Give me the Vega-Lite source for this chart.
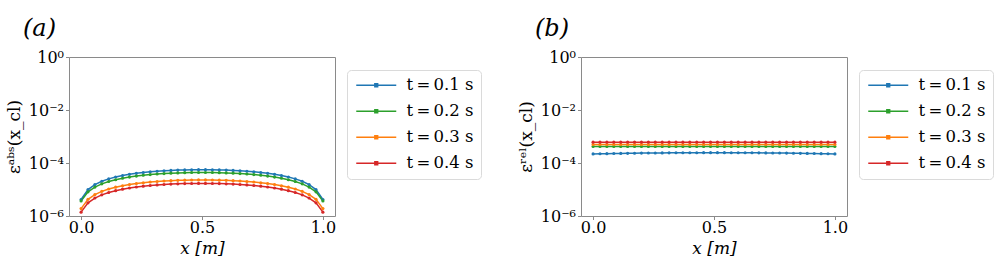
{
"$schema": "https://vega.github.io/schema/vega-lite/v6.json",
"padding": {"left": 4, "top": 16, "right": 5, "bottom": 2},
"background": "white",
"config": {
  "font": "DejaVu Serif",
  "view": {"stroke": "#8a8a8a", "strokeWidth": 1},
  "axis": {"grid": false, "domain": false, "tickColor": "#8a8a8a", "tickSize": 3.5, "labelFontSize": 16, "labelColor": "#000", "titleFontSize": 17, "titleFontWeight": "normal", "titleColor": "#000", "labelFont": "DejaVu Serif", "titleFont": "DejaVu Serif"},
  "legend": {"strokeColor": "#dadada", "fillColor": "white", "cornerRadius": 4, "padding": 7, "labelFontSize": 16.5, "labelFont": "DejaVu Serif", "labelColor": "#000", "symbolType": "M-5,0H5M-0.35,-0.35H0.35V0.35H-0.35Z", "symbolSize": 64, "symbolStrokeWidth": 1.5, "symbolOffset": 14, "labelOffset": 22, "rowPadding": 9, "title": null, "orient": "none", "legendX": 278, "legendY": 13},
  "title": {"font": "DejaVu Serif", "fontStyle": "italic", "fontSize": 24, "fontWeight": "normal", "anchor": "start", "frame": "group", "dx": -46, "offset": 8, "color": "#000"}
},
"datasets": {
"abs": [
{"t":"0.1","x":0,"v":4.2e-6},{"t":"0.1","x":0.0286,"v":9.95e-6},{"t":"0.1","x":0.0571,"v":15.35e-6},{"t":"0.1","x":0.0857,"v":20.42e-6},{"t":"0.1","x":0.1143,"v":25.15e-6},{"t":"0.1","x":0.1429,"v":29.55e-6},{"t":"0.1","x":0.1714,"v":33.6e-6},{"t":"0.1","x":0.2,"v":37.32e-6},{"t":"0.1","x":0.2286,"v":40.7e-6},{"t":"0.1","x":0.2571,"v":43.74e-6},{"t":"0.1","x":0.2857,"v":46.44e-6},{"t":"0.1","x":0.3143,"v":48.81e-6},{"t":"0.1","x":0.3429,"v":50.84e-6},{"t":"0.1","x":0.3714,"v":52.53e-6},{"t":"0.1","x":0.4,"v":53.88e-6},{"t":"0.1","x":0.4286,"v":54.89e-6},{"t":"0.1","x":0.4571,"v":55.57e-6},{"t":"0.1","x":0.4857,"v":55.91e-6},{"t":"0.1","x":0.5143,"v":55.91e-6},{"t":"0.1","x":0.5429,"v":55.57e-6},{"t":"0.1","x":0.5714,"v":54.89e-6},{"t":"0.1","x":0.6,"v":53.88e-6},{"t":"0.1","x":0.6286,"v":52.53e-6},{"t":"0.1","x":0.6571,"v":50.84e-6},{"t":"0.1","x":0.6857,"v":48.81e-6},{"t":"0.1","x":0.7143,"v":46.44e-6},{"t":"0.1","x":0.7429,"v":43.74e-6},{"t":"0.1","x":0.7714,"v":40.7e-6},{"t":"0.1","x":0.8,"v":37.32e-6},{"t":"0.1","x":0.8286,"v":33.6e-6},{"t":"0.1","x":0.8571,"v":29.55e-6},{"t":"0.1","x":0.8857,"v":25.15e-6},{"t":"0.1","x":0.9143,"v":20.42e-6},{"t":"0.1","x":0.9429,"v":15.35e-6},{"t":"0.1","x":0.9714,"v":9.95e-6},{"t":"0.1","x":1,"v":4.2e-6},
{"t":"0.2","x":0,"v":3.7e-6},{"t":"0.2","x":0.0286,"v":8.17e-6},{"t":"0.2","x":0.0571,"v":12.37e-6},{"t":"0.2","x":0.0857,"v":16.32e-6},{"t":"0.2","x":0.1143,"v":20.0e-6},{"t":"0.2","x":0.1429,"v":23.41e-6},{"t":"0.2","x":0.1714,"v":26.57e-6},{"t":"0.2","x":0.2,"v":29.46e-6},{"t":"0.2","x":0.2286,"v":32.09e-6},{"t":"0.2","x":0.2571,"v":34.45e-6},{"t":"0.2","x":0.2857,"v":36.56e-6},{"t":"0.2","x":0.3143,"v":38.4e-6},{"t":"0.2","x":0.3429,"v":39.97e-6},{"t":"0.2","x":0.3714,"v":41.29e-6},{"t":"0.2","x":0.4,"v":42.34e-6},{"t":"0.2","x":0.4286,"v":43.13e-6},{"t":"0.2","x":0.4571,"v":43.65e-6},{"t":"0.2","x":0.4857,"v":43.92e-6},{"t":"0.2","x":0.5143,"v":43.92e-6},{"t":"0.2","x":0.5429,"v":43.65e-6},{"t":"0.2","x":0.5714,"v":43.13e-6},{"t":"0.2","x":0.6,"v":42.34e-6},{"t":"0.2","x":0.6286,"v":41.29e-6},{"t":"0.2","x":0.6571,"v":39.97e-6},{"t":"0.2","x":0.6857,"v":38.4e-6},{"t":"0.2","x":0.7143,"v":36.56e-6},{"t":"0.2","x":0.7429,"v":34.45e-6},{"t":"0.2","x":0.7714,"v":32.09e-6},{"t":"0.2","x":0.8,"v":29.46e-6},{"t":"0.2","x":0.8286,"v":26.57e-6},{"t":"0.2","x":0.8571,"v":23.41e-6},{"t":"0.2","x":0.8857,"v":20.0e-6},{"t":"0.2","x":0.9143,"v":16.32e-6},{"t":"0.2","x":0.9429,"v":12.37e-6},{"t":"0.2","x":0.9714,"v":8.17e-6},{"t":"0.2","x":1,"v":3.7e-6},
{"t":"0.3","x":0,"v":1.9e-6},{"t":"0.3","x":0.0286,"v":4.24e-6},{"t":"0.3","x":0.0571,"v":6.45e-6},{"t":"0.3","x":0.0857,"v":8.51e-6},{"t":"0.3","x":0.1143,"v":10.44e-6},{"t":"0.3","x":0.1429,"v":12.23e-6},{"t":"0.3","x":0.1714,"v":13.89e-6},{"t":"0.3","x":0.2,"v":15.4e-6},{"t":"0.3","x":0.2286,"v":16.78e-6},{"t":"0.3","x":0.2571,"v":18.02e-6},{"t":"0.3","x":0.2857,"v":19.12e-6},{"t":"0.3","x":0.3143,"v":20.09e-6},{"t":"0.3","x":0.3429,"v":20.92e-6},{"t":"0.3","x":0.3714,"v":21.61e-6},{"t":"0.3","x":0.4,"v":22.16e-6},{"t":"0.3","x":0.4286,"v":22.57e-6},{"t":"0.3","x":0.4571,"v":22.85e-6},{"t":"0.3","x":0.4857,"v":22.98e-6},{"t":"0.3","x":0.5143,"v":22.98e-6},{"t":"0.3","x":0.5429,"v":22.85e-6},{"t":"0.3","x":0.5714,"v":22.57e-6},{"t":"0.3","x":0.6,"v":22.16e-6},{"t":"0.3","x":0.6286,"v":21.61e-6},{"t":"0.3","x":0.6571,"v":20.92e-6},{"t":"0.3","x":0.6857,"v":20.09e-6},{"t":"0.3","x":0.7143,"v":19.12e-6},{"t":"0.3","x":0.7429,"v":18.02e-6},{"t":"0.3","x":0.7714,"v":16.78e-6},{"t":"0.3","x":0.8,"v":15.4e-6},{"t":"0.3","x":0.8286,"v":13.89e-6},{"t":"0.3","x":0.8571,"v":12.23e-6},{"t":"0.3","x":0.8857,"v":10.44e-6},{"t":"0.3","x":0.9143,"v":8.51e-6},{"t":"0.3","x":0.9429,"v":6.45e-6},{"t":"0.3","x":0.9714,"v":4.24e-6},{"t":"0.3","x":1,"v":1.9e-6},
{"t":"0.4","x":0,"v":1.4e-6},{"t":"0.4","x":0.0286,"v":3.13e-6},{"t":"0.4","x":0.0571,"v":4.76e-6},{"t":"0.4","x":0.0857,"v":6.29e-6},{"t":"0.4","x":0.1143,"v":7.72e-6},{"t":"0.4","x":0.1429,"v":9.04e-6},{"t":"0.4","x":0.1714,"v":10.26e-6},{"t":"0.4","x":0.2,"v":11.38e-6},{"t":"0.4","x":0.2286,"v":12.4e-6},{"t":"0.4","x":0.2571,"v":13.32e-6},{"t":"0.4","x":0.2857,"v":14.13e-6},{"t":"0.4","x":0.3143,"v":14.85e-6},{"t":"0.4","x":0.3429,"v":15.46e-6},{"t":"0.4","x":0.3714,"v":15.97e-6},{"t":"0.4","x":0.4,"v":16.38e-6},{"t":"0.4","x":0.4286,"v":16.68e-6},{"t":"0.4","x":0.4571,"v":16.89e-6},{"t":"0.4","x":0.4857,"v":16.99e-6},{"t":"0.4","x":0.5143,"v":16.99e-6},{"t":"0.4","x":0.5429,"v":16.89e-6},{"t":"0.4","x":0.5714,"v":16.68e-6},{"t":"0.4","x":0.6,"v":16.38e-6},{"t":"0.4","x":0.6286,"v":15.97e-6},{"t":"0.4","x":0.6571,"v":15.46e-6},{"t":"0.4","x":0.6857,"v":14.85e-6},{"t":"0.4","x":0.7143,"v":14.13e-6},{"t":"0.4","x":0.7429,"v":13.32e-6},{"t":"0.4","x":0.7714,"v":12.4e-6},{"t":"0.4","x":0.8,"v":11.38e-6},{"t":"0.4","x":0.8286,"v":10.26e-6},{"t":"0.4","x":0.8571,"v":9.04e-6},{"t":"0.4","x":0.8857,"v":7.72e-6},{"t":"0.4","x":0.9143,"v":6.29e-6},{"t":"0.4","x":0.9429,"v":4.76e-6},{"t":"0.4","x":0.9714,"v":3.13e-6},{"t":"0.4","x":1,"v":1.4e-6}
],
"rel": [
{"t":"0.1","x":0,"v":2.2e-4},{"t":"0.1","x":0.0286,"v":2.23e-4},{"t":"0.1","x":0.0571,"v":2.25e-4},{"t":"0.1","x":0.0857,"v":2.28e-4},{"t":"0.1","x":0.1143,"v":2.3e-4},{"t":"0.1","x":0.1429,"v":2.32e-4},{"t":"0.1","x":0.1714,"v":2.34e-4},{"t":"0.1","x":0.2,"v":2.36e-4},{"t":"0.1","x":0.2286,"v":2.38e-4},{"t":"0.1","x":0.2571,"v":2.39e-4},{"t":"0.1","x":0.2857,"v":2.4e-4},{"t":"0.1","x":0.3143,"v":2.42e-4},{"t":"0.1","x":0.3429,"v":2.43e-4},{"t":"0.1","x":0.3714,"v":2.43e-4},{"t":"0.1","x":0.4,"v":2.44e-4},{"t":"0.1","x":0.4286,"v":2.44e-4},{"t":"0.1","x":0.4571,"v":2.45e-4},{"t":"0.1","x":0.4857,"v":2.45e-4},{"t":"0.1","x":0.5143,"v":2.45e-4},{"t":"0.1","x":0.5429,"v":2.45e-4},{"t":"0.1","x":0.5714,"v":2.44e-4},{"t":"0.1","x":0.6,"v":2.44e-4},{"t":"0.1","x":0.6286,"v":2.43e-4},{"t":"0.1","x":0.6571,"v":2.43e-4},{"t":"0.1","x":0.6857,"v":2.42e-4},{"t":"0.1","x":0.7143,"v":2.4e-4},{"t":"0.1","x":0.7429,"v":2.39e-4},{"t":"0.1","x":0.7714,"v":2.38e-4},{"t":"0.1","x":0.8,"v":2.36e-4},{"t":"0.1","x":0.8286,"v":2.34e-4},{"t":"0.1","x":0.8571,"v":2.32e-4},{"t":"0.1","x":0.8857,"v":2.3e-4},{"t":"0.1","x":0.9143,"v":2.28e-4},{"t":"0.1","x":0.9429,"v":2.25e-4},{"t":"0.1","x":0.9714,"v":2.23e-4},{"t":"0.1","x":1,"v":2.2e-4},
{"t":"0.2","x":0,"v":4.2e-4},{"t":"0.2","x":0.0286,"v":4.2e-4},{"t":"0.2","x":0.0571,"v":4.2e-4},{"t":"0.2","x":0.0857,"v":4.2e-4},{"t":"0.2","x":0.1143,"v":4.2e-4},{"t":"0.2","x":0.1429,"v":4.2e-4},{"t":"0.2","x":0.1714,"v":4.2e-4},{"t":"0.2","x":0.2,"v":4.2e-4},{"t":"0.2","x":0.2286,"v":4.2e-4},{"t":"0.2","x":0.2571,"v":4.2e-4},{"t":"0.2","x":0.2857,"v":4.2e-4},{"t":"0.2","x":0.3143,"v":4.2e-4},{"t":"0.2","x":0.3429,"v":4.2e-4},{"t":"0.2","x":0.3714,"v":4.2e-4},{"t":"0.2","x":0.4,"v":4.2e-4},{"t":"0.2","x":0.4286,"v":4.2e-4},{"t":"0.2","x":0.4571,"v":4.2e-4},{"t":"0.2","x":0.4857,"v":4.2e-4},{"t":"0.2","x":0.5143,"v":4.2e-4},{"t":"0.2","x":0.5429,"v":4.2e-4},{"t":"0.2","x":0.5714,"v":4.2e-4},{"t":"0.2","x":0.6,"v":4.2e-4},{"t":"0.2","x":0.6286,"v":4.2e-4},{"t":"0.2","x":0.6571,"v":4.2e-4},{"t":"0.2","x":0.6857,"v":4.2e-4},{"t":"0.2","x":0.7143,"v":4.2e-4},{"t":"0.2","x":0.7429,"v":4.2e-4},{"t":"0.2","x":0.7714,"v":4.2e-4},{"t":"0.2","x":0.8,"v":4.2e-4},{"t":"0.2","x":0.8286,"v":4.2e-4},{"t":"0.2","x":0.8571,"v":4.2e-4},{"t":"0.2","x":0.8857,"v":4.2e-4},{"t":"0.2","x":0.9143,"v":4.2e-4},{"t":"0.2","x":0.9429,"v":4.2e-4},{"t":"0.2","x":0.9714,"v":4.2e-4},{"t":"0.2","x":1,"v":4.2e-4},
{"t":"0.3","x":0,"v":5.0e-4},{"t":"0.3","x":0.0286,"v":5.0e-4},{"t":"0.3","x":0.0571,"v":5.0e-4},{"t":"0.3","x":0.0857,"v":5.0e-4},{"t":"0.3","x":0.1143,"v":5.0e-4},{"t":"0.3","x":0.1429,"v":5.0e-4},{"t":"0.3","x":0.1714,"v":5.0e-4},{"t":"0.3","x":0.2,"v":5.0e-4},{"t":"0.3","x":0.2286,"v":5.0e-4},{"t":"0.3","x":0.2571,"v":5.0e-4},{"t":"0.3","x":0.2857,"v":5.0e-4},{"t":"0.3","x":0.3143,"v":5.0e-4},{"t":"0.3","x":0.3429,"v":5.0e-4},{"t":"0.3","x":0.3714,"v":5.0e-4},{"t":"0.3","x":0.4,"v":5.0e-4},{"t":"0.3","x":0.4286,"v":5.0e-4},{"t":"0.3","x":0.4571,"v":5.0e-4},{"t":"0.3","x":0.4857,"v":5.0e-4},{"t":"0.3","x":0.5143,"v":5.0e-4},{"t":"0.3","x":0.5429,"v":5.0e-4},{"t":"0.3","x":0.5714,"v":5.0e-4},{"t":"0.3","x":0.6,"v":5.0e-4},{"t":"0.3","x":0.6286,"v":5.0e-4},{"t":"0.3","x":0.6571,"v":5.0e-4},{"t":"0.3","x":0.6857,"v":5.0e-4},{"t":"0.3","x":0.7143,"v":5.0e-4},{"t":"0.3","x":0.7429,"v":5.0e-4},{"t":"0.3","x":0.7714,"v":5.0e-4},{"t":"0.3","x":0.8,"v":5.0e-4},{"t":"0.3","x":0.8286,"v":5.0e-4},{"t":"0.3","x":0.8571,"v":5.0e-4},{"t":"0.3","x":0.8857,"v":5.0e-4},{"t":"0.3","x":0.9143,"v":5.0e-4},{"t":"0.3","x":0.9429,"v":5.0e-4},{"t":"0.3","x":0.9714,"v":5.0e-4},{"t":"0.3","x":1,"v":5.0e-4},
{"t":"0.4","x":0,"v":6.1e-4},{"t":"0.4","x":0.0286,"v":6.1e-4},{"t":"0.4","x":0.0571,"v":6.1e-4},{"t":"0.4","x":0.0857,"v":6.1e-4},{"t":"0.4","x":0.1143,"v":6.1e-4},{"t":"0.4","x":0.1429,"v":6.1e-4},{"t":"0.4","x":0.1714,"v":6.1e-4},{"t":"0.4","x":0.2,"v":6.1e-4},{"t":"0.4","x":0.2286,"v":6.1e-4},{"t":"0.4","x":0.2571,"v":6.1e-4},{"t":"0.4","x":0.2857,"v":6.1e-4},{"t":"0.4","x":0.3143,"v":6.1e-4},{"t":"0.4","x":0.3429,"v":6.1e-4},{"t":"0.4","x":0.3714,"v":6.1e-4},{"t":"0.4","x":0.4,"v":6.1e-4},{"t":"0.4","x":0.4286,"v":6.1e-4},{"t":"0.4","x":0.4571,"v":6.1e-4},{"t":"0.4","x":0.4857,"v":6.1e-4},{"t":"0.4","x":0.5143,"v":6.1e-4},{"t":"0.4","x":0.5429,"v":6.1e-4},{"t":"0.4","x":0.5714,"v":6.1e-4},{"t":"0.4","x":0.6,"v":6.1e-4},{"t":"0.4","x":0.6286,"v":6.1e-4},{"t":"0.4","x":0.6571,"v":6.1e-4},{"t":"0.4","x":0.6857,"v":6.1e-4},{"t":"0.4","x":0.7143,"v":6.1e-4},{"t":"0.4","x":0.7429,"v":6.1e-4},{"t":"0.4","x":0.7714,"v":6.1e-4},{"t":"0.4","x":0.8,"v":6.1e-4},{"t":"0.4","x":0.8286,"v":6.1e-4},{"t":"0.4","x":0.8571,"v":6.1e-4},{"t":"0.4","x":0.8857,"v":6.1e-4},{"t":"0.4","x":0.9143,"v":6.1e-4},{"t":"0.4","x":0.9429,"v":6.1e-4},{"t":"0.4","x":0.9714,"v":6.1e-4},{"t":"0.4","x":1,"v":6.1e-4}
]
},
"spacing": 34,
"resolve": {"scale": {"y": "independent", "color": "independent"}, "legend": {"color": "independent"}},
"hconcat": [
{
  "title": "(a)",
  "width": 266, "height": 159,
  "data": {"name": "abs"},
  "mark": {"type": "line", "strokeWidth": 1.5, "point": {"filled": true, "size": 10}},
  "encoding": {
    "x": {"field": "x", "type": "quantitative", "scale": {"domain": [-0.05, 1.05], "nice": false, "zero": false}, "axis": {"values": [0, 0.5, 1], "format": ".1f", "title": "x [m]", "titleFontStyle": "italic", "labelPadding": 0, "titlePadding": 5}},
    "y": {"field": "v", "type": "quantitative", "scale": {"type": "log", "domain": [1e-6, 1], "nice": false}, "axis": {"values": [1e-6, 1e-4, 1e-2, 1], "labelExpr": "datum.value >= 0.5 ? '10⁰' : datum.value >= 0.005 ? '10⁻²' : datum.value >= 0.00005 ? '10⁻⁴' : '10⁻⁶'", "title": "εᵃᵇˢ(x_cl)", "labelPadding": 2, "titlePadding": 5}},
    "color": {"field": "t", "type": "nominal", "scale": {"domain": ["0.1", "0.2", "0.3", "0.4"], "range": ["#1f77b4", "#2ca02c", "#ff7f0e", "#d62728"]}, "legend": {"labelExpr": "'t\u2009=\u2009' + datum.label + ' s'"}}
  }
},
{
  "title": "(b)",
  "width": 266, "height": 159,
  "data": {"name": "rel"},
  "mark": {"type": "line", "strokeWidth": 1.5, "point": {"filled": true, "size": 10}},
  "encoding": {
    "x": {"field": "x", "type": "quantitative", "scale": {"domain": [-0.05, 1.05], "nice": false, "zero": false}, "axis": {"values": [0, 0.5, 1], "format": ".1f", "title": "x [m]", "titleFontStyle": "italic", "labelPadding": 0, "titlePadding": 5}},
    "y": {"field": "v", "type": "quantitative", "scale": {"type": "log", "domain": [1e-6, 1], "nice": false}, "axis": {"values": [1e-6, 1e-4, 1e-2, 1], "labelExpr": "datum.value >= 0.5 ? '10⁰' : datum.value >= 0.005 ? '10⁻²' : datum.value >= 0.00005 ? '10⁻⁴' : '10⁻⁶'", "title": "εʳᵉˡ(x_cl)", "labelPadding": 2, "titlePadding": 5}},
    "color": {"field": "t", "type": "nominal", "scale": {"domain": ["0.1", "0.2", "0.3", "0.4"], "range": ["#1f77b4", "#2ca02c", "#ff7f0e", "#d62728"]}, "legend": {"labelExpr": "'t\u2009=\u2009' + datum.label + ' s'"}}
  }
}
]
}
